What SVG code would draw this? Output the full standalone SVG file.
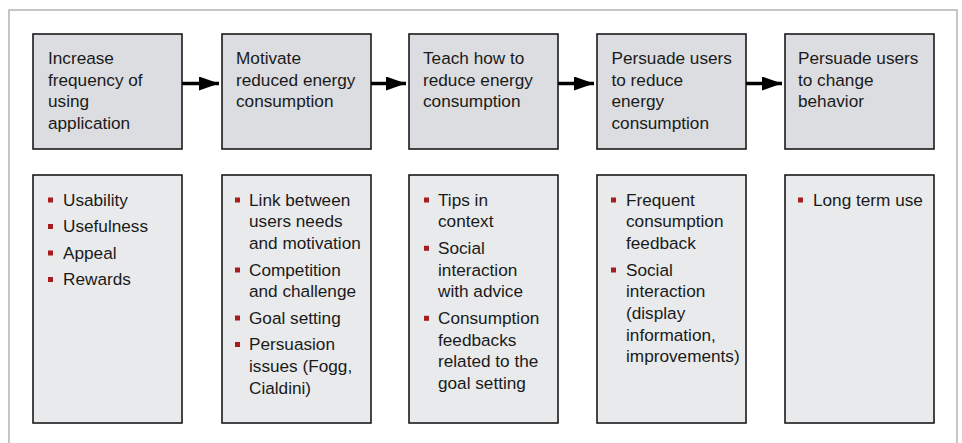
<svg xmlns="http://www.w3.org/2000/svg" width="962" height="443" viewBox="0 0 962 443">
  <defs>
    <style>
      .frame { fill: none; stroke: #b4b4b4; stroke-width: 1.5; }
      .stage { fill: #dcdde0; stroke: #1a1a1a; stroke-width: 1.6; }
      .detail { fill: #e9eaec; stroke: #1a1a1a; stroke-width: 1.6; }
      .t { font-family: "Liberation Sans", Arial, sans-serif; font-size: 17.2px; fill: #1a1a1a; }
      .b { fill: #a51d1f; }
      .conn { stroke: #000; stroke-width: 3.5; fill: none; marker-end: url(#head); }
    </style>
    <marker id="head" viewBox="0 0 20 14" refX="20" refY="7" markerWidth="20" markerHeight="14" markerUnits="userSpaceOnUse" orient="auto">
      <path d="M0,0 L20,7 L0,14 Z" fill="#000"/>
    </marker>
  </defs>

  <rect width="962" height="443" fill="#fff"/>
  <path class="frame" d="M9,443 V10 H957 V443"/>

  <!-- stage boxes -->
  <g id="stage1">
    <rect class="stage" x="33" y="34" width="149" height="115"/>
    <text class="t" x="48" y="64"><tspan x="48">Increase</tspan><tspan x="48" dy="21.7">frequency of</tspan><tspan x="48" dy="21.7">using</tspan><tspan x="48" dy="21.7">application</tspan></text>
  </g>
  <g id="stage2">
    <rect class="stage" x="222" y="34" width="149" height="115"/>
    <text class="t" x="236" y="64"><tspan x="236">Motivate</tspan><tspan x="236" dy="21.7">reduced energy</tspan><tspan x="236" dy="21.7">consumption</tspan></text>
  </g>
  <g id="stage3">
    <rect class="stage" x="409" y="34" width="149" height="115"/>
    <text class="t" x="423" y="64"><tspan x="423">Teach how to</tspan><tspan x="423" dy="21.7">reduce energy</tspan><tspan x="423" dy="21.7">consumption</tspan></text>
  </g>
  <g id="stage4">
    <rect class="stage" x="597" y="34" width="149" height="115"/>
    <text class="t" x="611.5" y="64"><tspan x="611.5">Persuade users</tspan><tspan x="611.5" dy="21.7">to reduce</tspan><tspan x="611.5" dy="21.7">energy</tspan><tspan x="611.5" dy="21.7">consumption</tspan></text>
  </g>
  <g id="stage5">
    <rect class="stage" x="785" y="34" width="149" height="115"/>
    <text class="t" x="798" y="64"><tspan x="798">Persuade users</tspan><tspan x="798" dy="21.7">to change</tspan><tspan x="798" dy="21.7">behavior</tspan></text>
  </g>

  <!-- detail boxes -->
  <g id="detail1">
    <rect class="detail" x="33" y="175" width="149" height="248"/>
    <rect class="b" x="48" y="197.5" width="5" height="5"/>
    <rect class="b" x="48" y="224" width="5" height="5"/>
    <rect class="b" x="48" y="250.5" width="5" height="5"/>
    <rect class="b" x="48" y="277" width="5" height="5"/>
    <text class="t" x="63" y="205.5"><tspan x="63">Usability</tspan><tspan x="63" dy="26.5">Usefulness</tspan><tspan x="63" dy="26.5">Appeal</tspan><tspan x="63" dy="26.5">Rewards</tspan></text>
  </g>
  <g id="detail2">
    <rect class="detail" x="222" y="175" width="149" height="248"/>
    <rect class="b" x="235" y="197.5" width="5" height="5"/>
    <rect class="b" x="235" y="267.5" width="5" height="5"/>
    <rect class="b" x="235" y="315.5" width="5" height="5"/>
    <rect class="b" x="235" y="342" width="5" height="5"/>
    <text class="t" x="249" y="205.5"><tspan x="249">Link between</tspan><tspan x="249" dy="21.7">users needs</tspan><tspan x="249" dy="21.7">and motivation</tspan><tspan x="249" dy="26.6">Competition</tspan><tspan x="249" dy="21.7">and challenge</tspan><tspan x="249" dy="26.6">Goal setting</tspan><tspan x="249" dy="26.6">Persuasion</tspan><tspan x="249" dy="21.7">issues (Fogg,</tspan><tspan x="249" dy="21.7">Cialdini)</tspan></text>
  </g>
  <g id="detail3">
    <rect class="detail" x="409" y="175" width="149" height="248"/>
    <rect class="b" x="424" y="197.5" width="5" height="5"/>
    <rect class="b" x="424" y="245.8" width="5" height="5"/>
    <rect class="b" x="424" y="315.8" width="5" height="5"/>
    <text class="t" x="438" y="205.5"><tspan x="438">Tips in</tspan><tspan x="438" dy="21.7">context</tspan><tspan x="438" dy="26.6">Social</tspan><tspan x="438" dy="21.7">interaction</tspan><tspan x="438" dy="21.7">with advice</tspan><tspan x="438" dy="26.6">Consumption</tspan><tspan x="438" dy="21.7">feedbacks</tspan><tspan x="438" dy="21.7">related to the</tspan><tspan x="438" dy="21.7">goal setting</tspan></text>
  </g>
  <g id="detail4">
    <rect class="detail" x="597" y="175" width="149" height="248"/>
    <rect class="b" x="611" y="197.5" width="5" height="5"/>
    <rect class="b" x="611" y="267.5" width="5" height="5"/>
    <text class="t" x="626" y="205.5"><tspan x="626">Frequent</tspan><tspan x="626" dy="21.7">consumption</tspan><tspan x="626" dy="21.7">feedback</tspan><tspan x="626" dy="26.6">Social</tspan><tspan x="626" dy="21.7">interaction</tspan><tspan x="626" dy="21.7">(display</tspan><tspan x="626" dy="21.7">information,</tspan><tspan x="626" dy="21.7">improvements)</tspan></text>
  </g>
  <g id="detail5">
    <rect class="detail" x="785" y="175" width="149" height="248"/>
    <rect class="b" x="798" y="197.5" width="5" height="5"/>
    <text class="t" x="813" y="205.5">Long term use</text>
  </g>

  <!-- connectors between stages -->
  <g id="connectors">
    <line class="conn" x1="182" y1="83.5" x2="219" y2="83.5"/>
    <line class="conn" x1="371" y1="83.5" x2="406" y2="83.5"/>
    <line class="conn" x1="558" y1="83.5" x2="594" y2="83.5"/>
    <line class="conn" x1="746" y1="83.5" x2="782" y2="83.5"/>
  </g>
</svg>
